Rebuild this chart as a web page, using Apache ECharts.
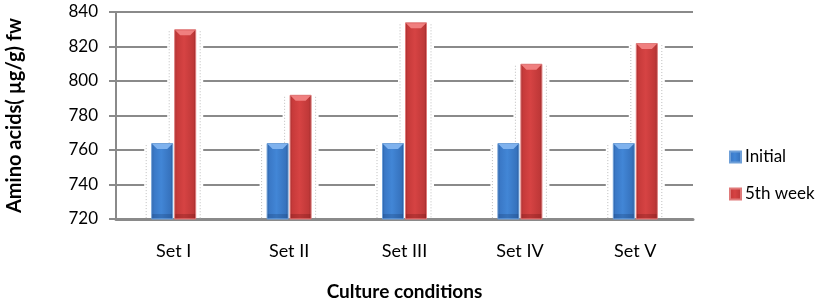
<!DOCTYPE html>
<html>
<head>
<meta charset="utf-8">
<script src="https://cdn.jsdelivr.net/npm/echarts@6/dist/echarts.min.js"></script>
<style>
  html, body { margin: 0; padding: 0; background: #fff; }
  #chart { width: 828px; height: 304px; }
</style>
</head>
<body>
<div id="chart"></div>
<script>
var categories = ['Set I', 'Set II', 'Set III', 'Set IV', 'Set V'];
var initialVals = [764, 764, 764, 764, 764];
var week5Vals = [830, 792, 834, 810, 822];
var yTicks = [720, 740, 760, 780, 800, 820, 840];

var BAR_W = 22;
var BAR_GAP = 1;

var blueFill = new echarts.graphic.LinearGradient(0, 0, 1, 0, [
    { offset: 0, color: '#2b5c9c' },
    { offset: 0.12, color: '#3a78c6' },
    { offset: 0.45, color: '#4286d6' },
    { offset: 0.88, color: '#3672bd' },
    { offset: 1, color: '#27548f' }
]);
var redFill = new echarts.graphic.LinearGradient(0, 0, 1, 0, [
    { offset: 0, color: '#9c2c2c' },
    { offset: 0.12, color: '#c63a3a' },
    { offset: 0.45, color: '#d64343' },
    { offset: 0.88, color: '#bf3838' },
    { offset: 1, color: '#8f2828' }
]);

// halo/back-wall and top bevel items: [category, value, seriesIdx]
var markItems = [];
categories.forEach(function (c, i) {
    markItems.push([i, initialVals[i], 0]);
    markItems.push([i, week5Vals[i], 1]);
});

function barRect(api) {
    var i = api.value(0), v = api.value(1), s = api.value(2);
    var top = api.coord([i, v]);
    var base = api.coord([i, yTicks[0]]);
    var cx = top[0] + (s === 0 ? -(BAR_W + BAR_GAP) / 2 : (BAR_W + BAR_GAP) / 2);
    return { x: cx - BAR_W / 2, y: top[1], w: BAR_W, h: base[1] - top[1], s: s };
}

var chart = echarts.init(document.getElementById('chart'));
var option = {
    animation: false,
    textStyle: { fontFamily: 'Lato, "Open Sans", sans-serif' },
    grid: { left: 116, right: 135, top: 12, bottom: 85, containLabel: false, outerBoundsMode: 'none' },
    legend: {
        orient: 'vertical',
        left: 724,
        top: 142,
        itemWidth: 11,
        itemHeight: 11,
        itemGap: 17,
        icon: 'rect',
        data: ['Initial', '5th week'],
        textStyle: { fontSize: 17, color: '#000', lineHeight: 20, padding: [0, 0, 0, -1] }
    },
    xAxis: {
        type: 'category',
        data: categories,
        name: 'Culture conditions',
        nameLocation: 'middle',
        nameGap: 63,
        nameTextStyle: { fontSize: 19, fontWeight: 'bold', color: '#000' },
        axisLine: { lineStyle: { color: '#8a8a8a', width: 3 } },
        axisTick: { show: false },
        axisLabel: { fontSize: 18, color: '#000', margin: 23 }
    },
    yAxis: {
        type: 'value',
        min: 720,
        max: 840,
        interval: 20,
        name: 'Amino acids( µg/g) fw',
        nameLocation: 'middle',
        nameGap: 91,
        nameTextStyle: { fontSize: 20, fontWeight: 'bold', color: '#000' },
        axisLine: { show: true, lineStyle: { color: '#8a8a8a', width: 2 } },
        axisTick: { show: true, length: 7, lineStyle: { color: '#8a8a8a', width: 2 } },
        axisLabel: { fontSize: 17, color: '#000', margin: 18 },
        splitLine: { lineStyle: { color: '#8a8a8a', width: 2 } }
    },
    series: [
        {
            name: 'halo',
            type: 'custom',
            z: 1,
            silent: true,
            data: markItems,
            renderItem: function (params, api) {
                var r = barRect(api);
                var pad = 7;
                return {
                    type: 'group',
                    children: [
                        {
                            type: 'rect',
                            shape: { x: r.x - pad, y: r.y - 2, width: r.w + pad * 2, height: r.h + 1 },
                            style: { fill: '#ffffff' }
                        },
                        {
                            type: 'line',
                            shape: { x1: r.x - 5, y1: r.y + 2, x2: r.x - 5, y2: r.y + r.h },
                            style: { stroke: '#bdbdbd', lineWidth: 1, lineDash: [1, 2] }
                        },
                        {
                            type: 'line',
                            shape: { x1: r.x + r.w + 4, y1: r.y + 2, x2: r.x + r.w + 4, y2: r.y + r.h },
                            style: { stroke: '#bdbdbd', lineWidth: 1, lineDash: [1, 2] }
                        }
                    ]
                };
            }
        },
        {
            name: 'Initial',
            type: 'bar',
            z: 3,
            barWidth: BAR_W,
            barGap: '4.5%',
            data: initialVals,
            itemStyle: { color: blueFill, borderColor: '#6e9fd8', borderWidth: 1 }
        },
        {
            name: '5th week',
            type: 'bar',
            z: 3,
            barWidth: BAR_W,
            data: week5Vals,
            itemStyle: { color: redFill, borderColor: '#e07a7a', borderWidth: 1 }
        },
        {
            name: 'bevel',
            type: 'custom',
            z: 4,
            silent: true,
            data: markItems,
            renderItem: function (params, api) {
                var r = barRect(api);
                var h = 6;
                var light = r.s === 0 ? '#7fb2ee' : '#f07f7f';
                var shade = r.s === 0 ? 'rgba(20,50,100,0.25)' : 'rgba(90,10,10,0.25)';
                return {
                    type: 'group',
                    children: [
                        {
                            type: 'polygon',
                            shape: { points: [[r.x + 1, r.y + 1], [r.x + r.w - 1, r.y + 1], [r.x + r.w - 6, r.y + h], [r.x + 6, r.y + h]] },
                            style: { fill: light }
                        },
                        {
                            type: 'rect',
                            shape: { x: r.x + 1, y: r.y + r.h - 5, width: r.w - 2, height: 4 },
                            style: { fill: shade }
                        }
                    ]
                };
            }
        }
    ]
};
chart.setOption(option);
</script>
</body>
</html>
